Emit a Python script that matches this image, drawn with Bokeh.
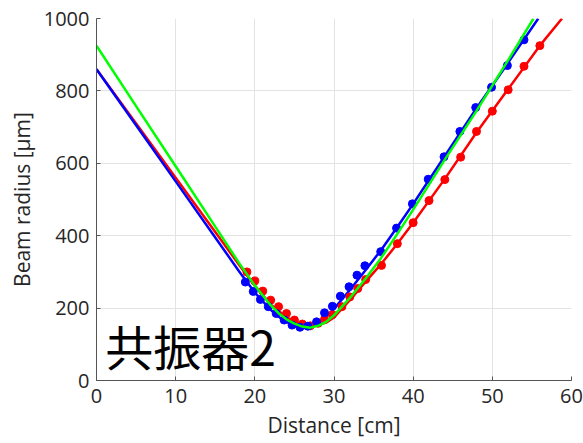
from bokeh.plotting import figure
from bokeh.models import Range1d, FixedTicker
from bokeh.core.properties import value
from bokeh.embed import file_html
from bokeh.resources import INLINE

# Measured points
red_x = [19, 20, 21, 22, 23, 24, 25, 26, 27, 28, 28.8, 29.8, 31, 32, 33, 34, 36, 38, 40, 42, 44, 46, 48, 50, 52, 54, 56]
red_y = [300, 275, 247, 222, 204, 185, 167, 156, 151, 158, 169, 182, 204, 231, 254, 279, 318, 378, 436, 497, 555, 617, 688, 744, 803, 868, 925]
blue_x = [18.8, 19.8, 20.7, 21.7, 22.7, 23.7, 24.7, 25.7, 26.7, 27.8, 28.8, 29.8, 30.8, 31.9, 32.9, 33.9, 35.9, 37.9, 39.9, 41.9, 43.9, 45.9, 47.9, 49.9, 51.9, 54.0]
blue_y = [272, 246, 224, 204, 185, 167, 153, 147, 150, 162, 187, 205, 233, 259, 291, 317, 356, 421, 488, 556, 618, 688, 754, 810, 870, 941]

# Fitted curves
red_fit_x = [0, 5, 10, 15, 18, 20, 22, 24, 25, 26, 27, 28, 29, 30, 32, 34, 36, 38, 40, 44, 48, 52, 56, 58.8]
red_fit_y = [860, 710, 560, 410, 320, 262, 210, 175, 163, 155, 151, 153, 160, 174, 222, 273, 323, 378, 436, 557, 685, 805, 925, 1000]
blue_fit_x = [0, 5, 10, 15, 18, 20, 22, 23, 24, 25, 26, 27, 28, 29, 30, 32, 34, 36, 38, 40, 44, 48, 52, 55.8]
blue_fit_y = [860, 705, 550, 395, 302, 243, 195, 176, 162, 151, 146, 148, 157, 175, 198, 250, 305, 362, 424, 488, 620, 752, 878, 1000]
green_fit_x = [0, 5, 10, 15, 18, 20, 22, 23, 24, 25, 26, 27, 28, 29, 30, 32, 34, 36, 38, 40, 44, 48, 52, 55.2]
green_fit_y = [925, 758, 592, 425, 325, 262, 208, 186, 169, 157, 149, 146, 151, 162, 180, 228, 282, 340, 405, 472, 610, 745, 885, 1000]

x_ticks = [0, 10, 20, 30, 40, 50, 60]
y_ticks = [0, 200, 400, 600, 800, 1000]
label_text = ["共振器2"]

RED = "#ff0000"
BLUE = "#0000ff"
GREEN = "#00ff00"
FONT = "Open Sans"

p = figure(width=583, height=443, output_backend="svg", toolbar_location=None,
           x_range=Range1d(0, 60), y_range=Range1d(0, 1000),
           min_border_left=96, min_border_right=12, min_border_top=18, min_border_bottom=63)
p.outline_line_color = None
p.background_fill_color = "white"
p.border_fill_color = "white"

p.xaxis.ticker = FixedTicker(ticks=x_ticks)
p.yaxis.ticker = FixedTicker(ticks=y_ticks)
for ax in (p.xaxis[0], p.yaxis[0]):
    ax.axis_line_color = "#555555"
    ax.axis_line_width = 1
    ax.major_tick_in = 4
    ax.major_tick_out = 0
    ax.major_tick_line_color = "#555555"
    ax.minor_tick_line_color = None
    ax.major_label_text_font = FONT
    ax.major_label_text_font_size = "20px"
    ax.major_label_text_color = "#262626"
    ax.axis_label_text_font = FONT
    ax.axis_label_text_font_size = "21px"
    ax.axis_label_text_font_style = "normal"
    ax.axis_label_text_color = "#262626"
p.xaxis.axis_label = "Distance [cm]"
p.yaxis.axis_label = "Beam radius [μm]"
p.xaxis.major_label_standoff = 8
p.yaxis.major_label_standoff = 7
p.xaxis.axis_label_standoff = 5
p.yaxis.axis_label_standoff = 5

p.xgrid.grid_line_color = "#e3e3e3"
p.ygrid.grid_line_color = "#e3e3e3"

p.line(red_fit_x, red_fit_y, line_color=RED, line_width=2.5)
p.line(blue_fit_x, blue_fit_y, line_color=BLUE, line_width=2.5)
p.scatter(red_x, red_y, size=8, fill_color=RED, line_color=RED)
p.scatter(blue_x, blue_y, size=8, fill_color=BLUE, line_color=BLUE)
p.line(green_fit_x, green_fit_y, line_color=GREEN, line_width=2.5)

p.text(x=[1.1], y=[98], text=label_text, text_font=value("Noto Sans CJK JP"),
       text_font_size="48px", text_color="black", text_baseline="middle", text_align="left")

open("out.html", "w").write(file_html(p, INLINE))
